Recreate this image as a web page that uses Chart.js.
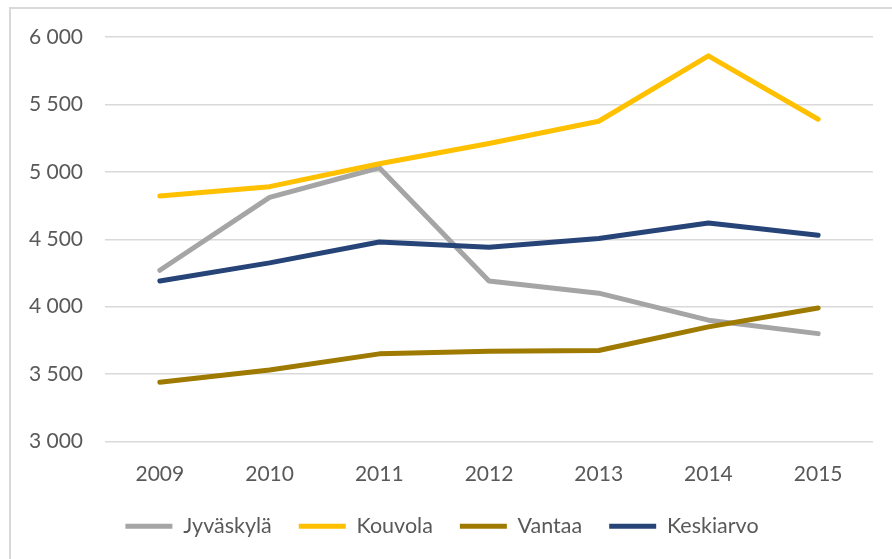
<!DOCTYPE html>
<html lang="fi">
<head>
    <meta charset="UTF-8">
    <title>Jyväskylä, Kouvola, Vantaa, Keskiarvo 2009–2015</title>
    <script src="https://cdn.jsdelivr.net/npm/chart.js"></script>
    <style>
        body {
            margin: 0;
            padding: 0;
            background: #fff;
            overflow: hidden;
        }
        .frame {
            position: absolute;
            left: 9px;
            top: 7px;
            width: 898px;
            height: 560px;
            border: 2px solid #d9d9d9;
        }
        .frame canvas {
            display: block;
        }
    </style>
</head>
<body>
    <div class="frame">
        <canvas id="lineChart" width="898" height="560"></canvas>
    </div>

    <script>
        // Data
        const years = ['2009', '2010', '2011', '2012', '2013', '2014', '2015'];
        const jyvaskyla = [4270, 4810, 5030, 4190, 4100, 3900, 3800];
        const kouvola = [4820, 4890, 5060, 5210, 5375, 5860, 5390];
        const vantaa = [3440, 3530, 3650, 3670, 3675, 3850, 3990];
        const keskiarvo = [4190, 4325, 4480, 4440, 4505, 4620, 4530];
        const yMin = 3000;
        const yMax = 6000;
        const yStep = 500;

        const textColor = '#595959';
        const gridColor = '#d9d9d9';

        function series(label, data, color, order) {
            return {
                label: label,
                data: data,
                borderColor: color,
                backgroundColor: color,
                borderWidth: 5,
                borderCapStyle: 'round',
                borderJoinStyle: 'round',
                pointRadius: 0,
                pointHoverRadius: 0,
                tension: 0,
                fill: false,
                order: order // later series drawn on top, like the original
            };
        }

        const ctx = document.getElementById('lineChart').getContext('2d');
        new Chart(ctx, {
            type: 'line',
            data: {
                labels: years,
                datasets: [
                    series('Jyväskylä', jyvaskyla, '#a5a5a5', 4),
                    series('Kouvola', kouvola, '#ffc000', 3),
                    series('Vantaa', vantaa, '#9e7a00', 2),
                    series('Keskiarvo', keskiarvo, '#264478', 1)
                ]
            },
            options: {
                responsive: false,
                animation: false,
                layout: {
                    padding: { top: 28, right: 36, bottom: 22, left: 0 }
                },
                plugins: {
                    tooltip: { enabled: false },
                    legend: {
                        position: 'bottom',
                        labels: {
                            usePointStyle: true,
                            pointStyle: 'line',
                            pointStyleWidth: 47,
                            padding: 27,
                            color: textColor,
                            font: { family: 'Lato', size: 21.5 },
                            sort: function (a, b) { return a.datasetIndex - b.datasetIndex; }
                        }
                    }
                },
                scales: {
                    x: {
                        offset: true,
                        border: { display: false },
                        grid: { display: false, drawTicks: false },
                        afterFit: function (scale) { scale.height = 47; },
                        ticks: {
                            padding: 20,
                            color: textColor,
                            font: { family: 'Lato', size: 21 }
                        }
                    },
                    y: {
                        min: yMin,
                        max: yMax,
                        border: { display: false },
                        grid: { color: gridColor, lineWidth: 1.5, drawTicks: false },
                        afterFit: function (scale) {
                            scale.width = 94;
                            scale.paddingTop = 0;
                            scale.paddingBottom = 0;
                        },
                        ticks: {
                            stepSize: yStep,
                            padding: 22,
                            color: textColor,
                            font: { family: 'Lato', size: 21 },
                            callback: function (v) {
                                return String(v).replace(/\B(?=(\d{3})+(?!\d))/g, ' ');
                            }
                        }
                    }
                }
            }
        });
    </script>
</body>
</html>
